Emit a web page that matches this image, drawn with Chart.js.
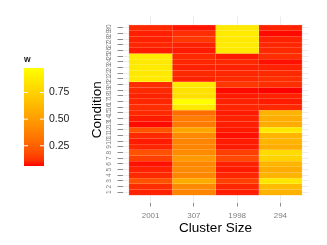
<!DOCTYPE html>
<html lang="en">
<head>
<meta charset="UTF-8">
<title>Condition by cluster size</title>
<style>
  body { margin: 0; background: #fff; }
  canvas { display: block; }
</style>
</head>
<body>
<canvas id="heat" width="327" height="245"></canvas>
<script src="https://cdn.jsdelivr.net/npm/chart.js@4/dist/chart.umd.min.js"></script>
<script>
// x categories, in plotted order
const clusters = ['2001', '307', '1998', '294'];
// y values
const conditions = [1, 2, 3, 4, 5, 6, 7, 8, 9, 10, 11, 12, 13, 14, 15,
                    16, 17, 18, 19, 20, 21, 22, 23, 24, 25, 26, 27, 28, 29, 30];
// w for each condition (condition 1 first), one list per cluster
const w2001 = [0.09, 0.11, 0.20, 0.10, 0.09, 0.07, 0.15, 0.20, 0.095, 0.08,
               0.10, 0.20, 0.065, 0.08, 0.10, 0.11, 0.095, 0.09, 0.10, 0.11,
               0.88, 0.87, 0.88, 0.87, 0.88, 0.08, 0.095, 0.09, 0.085, 0.10];
const w307 = [0.39, 0.41, 0.57, 0.40, 0.42, 0.40, 0.49, 0.42, 0.39, 0.39,
              0.41, 0.54, 0.35, 0.36, 0.29, 0.87, 0.98, 0.82, 0.83, 0.87,
              0.09, 0.10, 0.09, 0.095, 0.10, 0.08, 0.09, 0.13, 0.11, 0.075];
const w1998 = [0.085, 0.095, 0.15, 0.095, 0.08, 0.09, 0.17, 0.15, 0.08, 0.08,
               0.07, 0.08, 0.085, 0.09, 0.08, 0.095, 0.09, 0.08, 0.065, 0.13,
               0.10, 0.095, 0.09, 0.10, 0.08, 0.87, 0.88, 0.87, 0.88, 0.87];
const w294 = [0.60, 0.64, 0.86, 0.61, 0.57, 0.61, 0.76, 0.80, 0.57, 0.61,
              0.61, 0.87, 0.57, 0.57, 0.61, 0.10, 0.08, 0.09, 0.06, 0.11,
              0.11, 0.10, 0.09, 0.07, 0.11, 0.10, 0.095, 0.09, 0.065, 0.09];
const legendTicks = [0.25, 0.50, 0.75];

// red -> yellow gradient, interpolated in CIE Lab
function toLin(c) { c /= 255; return c <= 0.04045 ? c / 12.92 : Math.pow((c + 0.055) / 1.055, 2.4); }
function toSrgb(c) {
  c = c <= 0.0031308 ? 12.92 * c : 1.055 * Math.pow(c, 1 / 2.4) - 0.055;
  return Math.round(Math.min(1, Math.max(0, c)) * 255);
}
const Xn = 0.95047, Zn = 1.08883;
function rgbToLab(rgb) {
  const [r, g, b] = rgb.map(toLin);
  const x = (0.4124 * r + 0.3576 * g + 0.1805 * b) / Xn;
  const y = 0.2126 * r + 0.7152 * g + 0.0722 * b;
  const z = (0.0193 * r + 0.1192 * g + 0.9505 * b) / Zn;
  const f = t => t > 0.008856 ? Math.cbrt(t) : 7.787 * t + 16 / 116;
  return [116 * f(y) - 16, 500 * (f(x) - f(y)), 200 * (f(y) - f(z))];
}
function labToRgb([L, a, bb]) {
  const fy = (L + 16) / 116, fx = fy + a / 500, fz = fy - bb / 200;
  const inv = t => t > 0.206893 ? t * t * t : (t - 16 / 116) / 7.787;
  const x = inv(fx) * Xn, y = inv(fy), z = inv(fz) * Zn;
  return [
    toSrgb(3.2406 * x - 1.5372 * y - 0.4986 * z),
    toSrgb(-0.9689 * x + 1.8758 * y + 0.0415 * z),
    toSrgb(0.0557 * x - 0.2040 * y + 1.0570 * z)
  ];
}
const lowLab = rgbToLab([255, 0, 0]);
const highLab = rgbToLab([255, 255, 0]);
const columns = [w2001, w307, w1998, w294];
const allW = [].concat(...columns);
const wMin = Math.min(...allW), wMax = Math.max(...allW);

function fillFor(v, white = 0) {
  const t = (v - wMin) / (wMax - wMin);
  const lab = lowLab.map((l, i) => l + (highLab[i] - l) * t);
  const rgb = labToRgb(lab).map(c => Math.round(c + (255 - c) * white));
  return 'rgb(' + rgb.join(',') + ')';
}

const FONT = '"Liberation Sans", Arial, sans-serif';
Chart.defaults.font.family = FONT;

// one dataset per cluster, a floating bar per condition
const datasets = columns.map((vals, j) => ({
  data: conditions.map(c => ({ x: j + 1, y: [c - 0.5, c + 0.5] })),
  backgroundColor: vals.map(v => fillFor(v)),
  borderColor: vals.map(v => fillFor(v, 0.38)),
  borderWidth: 0.5,
  borderSkipped: false,
  grouped: false,
  barPercentage: 1,
  categoryPercentage: 1
}));

// colour bar legend on the left
const colorbar = {
  id: 'colorbar',
  afterDraw(chart) {
    const ctx = chart.ctx;
    const left = 24, right = 44, top = 68, bottom = 166;
    const grad = ctx.createLinearGradient(0, bottom, 0, top);
    for (let i = 0; i <= 20; i++) {
      grad.addColorStop(i / 20, fillFor(wMin + (wMax - wMin) * i / 20));
    }
    ctx.save();
    ctx.fillStyle = grad;
    ctx.fillRect(left, top, right - left, bottom - top);
    ctx.strokeStyle = '#fff';
    ctx.lineWidth = 1;
    ctx.font = '10.5px ' + FONT;
    ctx.fillStyle = '#1a1a1a';
    ctx.textBaseline = 'middle';
    legendTicks.forEach(v => {
      const y = bottom - (v - wMin) / (wMax - wMin) * (bottom - top);
      ctx.beginPath();
      ctx.moveTo(left, y); ctx.lineTo(left + 4, y);
      ctx.moveTo(right - 4, y); ctx.lineTo(right, y);
      ctx.stroke();
      ctx.fillText(v.toFixed(2), 49, y);
    });
    ctx.font = 'bold 8.5px ' + FONT;
    ctx.textBaseline = 'alphabetic';
    ctx.fillText('w', 24, 61.5);
    ctx.restore();
  }
};

new Chart(document.getElementById('heat'), {
  type: 'bar',
  data: { datasets },
  options: {
    responsive: false,
    animation: false,
    devicePixelRatio: 1,
    layout: { padding: { left: 85, right: 18.5, top: 16.6, bottom: 5 } },
    plugins: { legend: { display: false }, tooltip: { enabled: false } },
    scales: {
      x: {
        type: 'linear',
        offset: false,
        min: 0.35,
        max: 4.65,
        afterBuildTicks: s => { s.ticks = clusters.map((_, i) => ({ value: i + 1 })); },
        afterFit: s => { s.height = 37; },
        grid: { offset: false, color: '#ececec', tickColor: '#8c8c8c', tickLength: 3.5, tickWidth: 1 },
        border: { display: false },
        ticks: {
          autoSkip: false, maxRotation: 0, padding: 4, color: '#7f7f7f',
          font: { size: 8 },
          callback: v => clusters[v - 1]
        },
        title: {
          display: true, text: 'Cluster Size', color: '#000',
          font: { size: 13.5 }, padding: { top: 0, bottom: 4 }
        }
      },
      y: {
        type: 'linear',
        min: -0.9,
        max: 32,
        afterBuildTicks: s => { s.ticks = conditions.map(c => ({ value: c })); },
        afterFit: s => { s.width = 37.5; },
        grid: { color: '#ececec', tickColor: '#8c8c8c', tickLength: 5, tickWidth: 1 },
        border: { display: false },
        ticks: {
          autoSkip: false, minRotation: 90, maxRotation: 90, crossAlign: 'center',
          padding: 5, color: '#7f7f7f', font: { size: 6.5 },
          callback: v => String(v)
        },
        title: {
          display: true, text: 'Condition', color: '#000',
          font: { size: 13.5 }, padding: { top: 4, bottom: 0 }
        }
      }
    }
  },
  plugins: [colorbar]
});
</script>
</body>
</html>
